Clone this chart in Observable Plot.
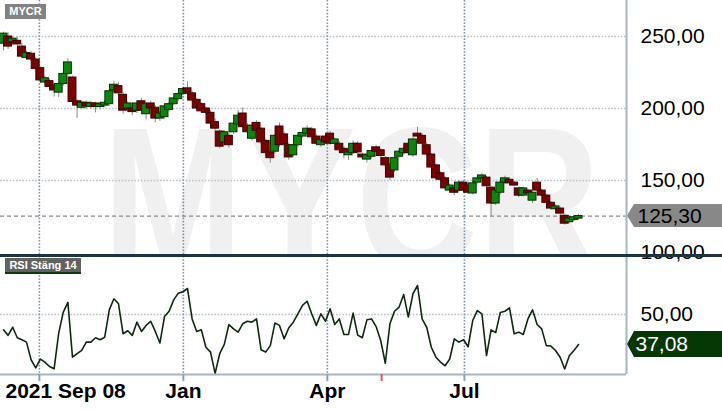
<!DOCTYPE html>
<html>
<head>
<meta charset="utf-8">
<script src="https://cdn.jsdelivr.net/npm/d3@7"></script>
<script src="https://cdn.jsdelivr.net/npm/@observablehq/plot@0.6"></script>
<style>
  html, body { margin: 0; padding: 0; background: #fff; }
  #chart { position: relative; width: 722px; height: 410px; overflow: hidden; font-family: "Liberation Sans", Arial, sans-serif; }
  #chart svg { position: absolute; left: 0; top: 0; }
  .tag { position: absolute; color: #fff; font-weight: bold; font-size: 11px; line-height: 15px; text-align: center; }
  #sep { position: absolute; left: 0; top: 254px; width: 722px; height: 2.5px; background: #1b3342; }
</style>
</head>
<body>
<div id="chart"></div>
<script>
// ---- data ----
const ticker = "MYCR";
const rsiTitle = "RSI Stäng 14";
const startLabel = "2021 Sep 08";
// x positions are trading-session indexes (about two sessions per candle)
const xTicks = [7.8, 39.1, 70.4, 100.2];          // Oct 1, Jan 3, Apr 1, Jul 1
const xTickLabels = ["", "Jan", "Apr", "Jul"];
const eventTicks = [82.2];
const priceTicks = [100, 150, 200, 250];
const priceGrid = [150, 200, 250];
const rsiTicks = [50];

const open = [245,250,246,247,243,235,238,234,228,218,219,216,211,217,224,221.5,205,200.5,204,201,
  203.5,201,202,203,212.5,215.5,209.5,200,200,198.5,205,196,203.5,200.5,193,194,199,203,206.5,210,
  214,210.5,206,203,200,197,190.5,184,176.5,181,183.5,189,196.5,188,179,190,186,177.5,169.5,170,
  187.5,182,174.5,167.5,174.5,180.5,182.5,185.5,180.5,174.5,180.5,182.5,175.5,175.5,172,167.5,169,175.5,168,164.5,
  166.5,173,171,165.5,161,157,166.5,169,175.5,167.5,182.5,181,174.5,168,160.5,155,151.5,143,144.5,143,
  148.5,146.5,141,148.5,151.5,152,145,134,141.5,148.5,150.5,148.5,144.5,139.5,143,136,148.5,143,139.5,134.5,
  130,130.5,125.5,121,122.5,123.5];
const high = [253,252.5,250,249.5,245,240,239.5,235.5,229,222.5,220.5,217,218,225,234.5,222.5,206,205.5,205,205,
  204.5,204,205.5,213,219,218,211,204.5,201,205,207,204,205,202,198,202.5,204.5,208,211,214.5,
  218.5,212,207,204,201,198.5,193,185,184.5,182.5,190.5,198.5,200.5,189.5,189,191.5,187,178.5,171,182,
  190,183.5,176,175,182,184,188,187,182,179,182,184,179.5,177,173.5,170.5,177.5,177,169,168.5,
  171.5,174.5,172,166.5,162,166.5,171,173.5,178,180,187,182.5,176,169,161.5,156,152.5,147.5,146,150,
  150,147.5,149,152.5,155,153,146,144,149.5,153,152,149.5,145.5,145.5,144,142.5,151.5,144,140.5,135.5,
  133,131.5,126.5,124.5,125.5,126.5];
const low = [240,241,244,243.5,235,233.5,232.5,226,217.5,215.5,213.5,208,207.5,215.5,222,203,193,199,199.5,199.5,
  197,199,200.5,201.5,211,209,196,198.5,195,196.5,197,192,198.5,190,191,192.5,197.5,202,205,209,
  210,204.5,198.5,196.5,195.5,186,184.5,172,175,172.5,182,188,186,181,177.5,183,175,167.5,162,168.5,
  173,174,164,166,173,179.5,181.5,178.5,174.5,173,175,174.5,174,169.5,165,164,168,168,164.5,162,
  165,169,165.5,159,150,155.5,165.5,167.5,167.5,166,179.5,174.5,167,158,150.5,149.5,143.5,141,139.5,142,
  141.5,140.5,140,147.5,150.5,145,124.5,132.5,140,147.5,147,145.5,138,138.5,139,134,142,138.5,133.5,129.5,
  129,126,119,120,121.5,122.5];
const close = [252,243,248.5,244.5,236,238.5,234,227.5,219.5,221,215,212.5,217,224,232,204.5,202,204,201.5,203.5,
  201,203,204,212,216.5,210.5,198.5,203.5,197.5,203.5,198.5,203,200,193,196.5,201.5,203,207,210,213.5,
  211,205.5,200,198,197,189.5,186,173.5,183.5,174.5,189.5,195,187,183.5,188,184.5,176.5,169,165.5,181,
  174.5,175,166,174.5,181,183,186,180,175.5,178,176.5,175.5,178.5,171,169,169.5,175.5,169.5,166,167.5,
  170.5,170,167,160.5,152,165.5,170,172,169,178.5,180.5,175.5,168,159,151.5,150.5,144.5,146.5,141.5,148.5,
  143,141.5,148,151.5,153.5,146,134,143,148.5,151.5,148,146.5,139.5,144.5,141,141.5,143,139.5,134.5,130.5,
  132,127,120,123.5,124.5,125.3];
const rsi = [43.4,41.0,44.5,40.0,39.1,38.1,30.5,27.0,30.8,29.5,27.6,26.6,42.0,51.0,55.2,31.6,33.1,34.5,38.1,38.1,
  40.0,39.1,40.2,52.0,56.8,54.6,41.7,43.0,41.0,46.7,42.7,45.3,47.1,42.7,37.7,49.1,51.4,56.3,59.2,59.8,
  61.2,48.1,42.7,43.4,35.9,33.8,24.6,33.1,37.1,45.7,43.8,42.4,46.0,47.1,46.7,48.1,34.8,33.8,36.6,46.3,
  45.3,39.5,44.2,46.7,50.3,53.9,55.7,50.3,45.3,50.3,47.1,52.5,45.7,48.1,41.4,41.4,50.6,41.1,40.0,47.7,
  48.1,44.8,38.8,29.0,46.0,51.4,53.2,58.6,48.9,58.9,62.5,48.1,44.5,35.9,31.6,29.5,27.9,30.8,39.5,38.1,
  39.1,36.1,47.4,51.7,50.3,32.3,43.4,42.2,50.9,51.4,52.9,41.7,42.4,41.4,48.1,52.0,45.7,43.8,36.6,36.4,
  34.5,31.6,26.5,32.2,34.5,37.08];

// ---- build ----
const candles = open.map((o, i) => ({i, o, h: high[i], l: low[i], c: close[i]}));
const rsiData = rsi.map((v, i) => ({i, v}));
const lastClose = close[close.length - 1];
const lastRsi = rsi[rsi.length - 1];
const fmt = v => v.toFixed(2).replace(".", ",");
const X_DOMAIN = [-0.652, 135.43];
const P_DOMAIN = [98.6, 275];
const R_DOMAIN = [24.14, 75];
const FONT = "Liberation Sans, Arial, sans-serif";
const tickLabelMap = new Map(xTicks.map((t, k) => [t, xTickLabels[k]]));

const vGrid = {stroke: "#7d93a6", strokeWidth: 1.6, strokeDasharray: "1.6,1.6"};
const hGrid = {stroke: "#b9c3cc", strokeWidth: 1.6, strokeDasharray: "1.6,1.6"};
const border = {stroke: "#a3b5c6", strokeWidth: 2};

const pricePlot = Plot.plot({
  width: 722, height: 410,
  marginLeft: 0, marginRight: 96, marginTop: 0, marginBottom: 156,
  x: {domain: X_DOMAIN, axis: null},
  y: {domain: P_DOMAIN, axis: null},
  style: {background: "transparent", fontFamily: FONT, color: "black"},
  marks: [
    Plot.text([ticker], {frameAnchor: "top-left", dx: 102, dy: 270, lineAnchor: "bottom", textAnchor: "start",
      fontSize: 169, fontWeight: "bold", fill: "#f0f0f0", clip: true}),
    Plot.ruleY(priceGrid, hGrid),
    Plot.ruleX(xTicks, vGrid),
    Plot.ruleY([lastClose], {stroke: "#8a8a8a", strokeWidth: 1.2, strokeDasharray: "4,3"}),
    Plot.ruleX(candles, {x: "i", y1: "l", y2: "h", stroke: "#8c8c8c", strokeWidth: 1}),
    Plot.rect(candles, {x1: d => d.i - 0.86, x2: d => d.i + 0.86, y1: "o", y2: "c",
      fill: d => d.c >= d.o ? "#0b870b" : "#7d0000",
      stroke: d => d.c >= d.o ? "#063006" : "#3a0000", strokeWidth: 1}),
    Plot.axisY({anchor: "right", ticks: priceTicks, tickSize: 0, tickPadding: 14, tickFormat: fmt,
      fontSize: 21, color: "black", label: null}),
    Plot.text([lastClose], {y: d => d, frameAnchor: "right", dx: 11, textAnchor: "start", text: fmt,
      fontSize: 21, fill: "black"}),
    Plot.ruleX([X_DOMAIN[1]], border)
  ]
});

const rsiPlot = Plot.plot({
  width: 722, height: 410,
  marginLeft: 0, marginRight: 96, marginTop: 256, marginBottom: 36,
  x: {domain: X_DOMAIN, axis: null},
  y: {domain: R_DOMAIN, axis: null},
  style: {background: "transparent", fontFamily: FONT, color: "black"},
  marks: [
    Plot.ruleY(rsiTicks, hGrid),
    Plot.ruleX(xTicks, vGrid),
    Plot.lineY(rsiData, {x: "i", y: "v", stroke: "#0c2a0c", strokeWidth: 1.6}),
    Plot.ruleY([R_DOMAIN[0]], border),
    Plot.ruleX([X_DOMAIN[1]], border),
    Plot.axisX({ticks: xTicks, tickFormat: d => tickLabelMap.get(d), tickSize: 7, tickPadding: 2,
      color: "black", stroke: "#8ea1b2", strokeWidth: 2, fontSize: 21, fontWeight: "bold", label: null}),
    Plot.axisX({ticks: eventTicks, tickFormat: () => "", tickSize: 7, stroke: "#ff4d4d", strokeWidth: 2, label: null}),
    Plot.text([startLabel], {frameAnchor: "bottom-left", dx: 5, dy: 9, lineAnchor: "top", textAnchor: "start",
      fontSize: 21, fontWeight: "bold", fill: "black"}),
    Plot.axisY({anchor: "right", ticks: rsiTicks, tickSize: 0, tickPadding: 14, tickFormat: fmt,
      fontSize: 21, color: "black", label: null}),
    Plot.text([lastRsi], {y: d => d, frameAnchor: "right", dx: 9, textAnchor: "start", text: fmt,
      fontSize: 21, fill: "white"})
  ]
});

const chart = document.getElementById("chart");
chart.appendChild(pricePlot);
chart.appendChild(rsiPlot);

// stretch the watermark vertically about its baseline
d3.select(pricePlot).selectAll("text").filter(function () {
  return this.textContent === ticker;
}).attr("transform", function () {
  return (this.getAttribute("transform") || "") + " scale(1,1.215)";
});

// value tags with arrow, placed through the plots' own y scales
function tag(svg, value, fill, h) {
  const y = svg.scale("y").apply(value);
  const txt = d3.select(svg).selectAll("text").filter(function () { return this.textContent === fmt(value); }).node();
  const mark = txt.closest("g") || txt;
  const p = document.createElementNS("http://www.w3.org/2000/svg", "path");
  p.setAttribute("d", `M627,${y} L634,${y - h / 2} L722,${y - h / 2} L722,${y + h / 2} L634,${y + h / 2} Z`);
  p.setAttribute("fill", fill);
  mark.parentNode.insertBefore(p, mark);
}
tag(pricePlot, lastClose, "#888888", 23);
tag(rsiPlot, lastRsi, "#063806", 26);

// panel separator and panel titles
const sep = document.createElement("div");
sep.id = "sep";
chart.appendChild(sep);

const t1 = document.createElement("div");
t1.className = "tag";
t1.textContent = ticker;
Object.assign(t1.style, {left: "5px", top: "4px", width: "41px", height: "15px", background: "#828282"});
chart.appendChild(t1);

const t2 = document.createElement("div");
t2.className = "tag";
t2.textContent = rsiTitle;
Object.assign(t2.style, {left: "5px", top: "258px", width: "76px", height: "14px", lineHeight: "14px",
  background: "#626262", borderBottom: "2px solid #0b3a0b"});
chart.appendChild(t2);
</script>
</body>
</html>
